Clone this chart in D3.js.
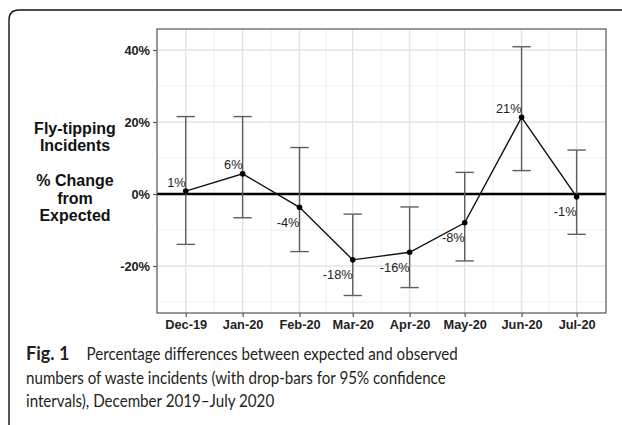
<!DOCTYPE html>
<html>
<head>
<meta charset="utf-8">
<script src="https://cdn.jsdelivr.net/npm/d3@7"></script>
<style>
  html, body { margin: 0; padding: 0; background: #fff; }
  svg { display: block; }
</style>
</head>
<body>
<svg id="chart" width="622" height="425"></svg>
<script>
// ---- data ----
const months = ["2019-12-01","2020-01-01","2020-02-01","2020-03-01","2020-04-01","2020-05-01","2020-06-01","2020-07-01"];
const tickLabels = ["Dec-19","Jan-20","Feb-20","Mar-20","Apr-20","May-20","Jun-20","Jul-20"];
const pctChange = [0.8, 5.6, -3.7, -18.3, -16.2, -8.0, 21.3, -0.8];
const pctLabels = ["1%","6%","-4%","-18%","-16%","-8%","21%","-1%"];
const ciUpper = [21.5, 21.5, 12.9, -5.6, -3.6, 6.0, 40.9, 12.2];
const ciLower = [-14.0, -6.6, -16.0, -28.2, -26.0, -18.6, 6.5, -11.2];
const yMajor = [-20, 0, 20, 40];
const yMinor = [-30, -10, 10, 30];
const yTitle = ["Fly-tipping", "Incidents", "", "% Change", "from", "Expected"];
const captionLines = [
  ["Fig. 1", "Percentage differences between expected and observed"],
  ["", "numbers of waste incidents (with drop-bars for 95% confidence"],
  ["", "intervals), December 2019\u2013July 2020"]
];

const parse = d3.timeParse("%Y-%m-%d");
const dates = months.map(parse);
const rows = dates.map((d, i) => ({ date: d, v: pctChange[i], lo: ciLower[i], hi: ciUpper[i], lab: pctLabels[i] }));

const svg = d3.select("#chart");

// frame
svg.append("path")
  .attr("d", "M9,440 L9,20 Q9,10 19,10 L640,10")
  .attr("fill", "none").attr("stroke", "#111").attr("stroke-width", 1.4);

const P = { left: 157, top: 29, right: 606, bottom: 313 };
const DAY = 864e5;
const x = d3.scaleTime()
  .domain([new Date(+dates[0] - 15.65 * DAY), new Date(+dates[dates.length - 1] + 16 * DAY)])
  .range([P.left, P.right]);
const y = d3.scaleLinear().domain([-33.06, 45.83]).range([P.bottom, P.top]);

const g = svg.append("g");

// minor vertical grid (midpoints between months)
const xMinor = dates.slice(1).map((d, i) => new Date((+d + +dates[i]) / 2));
g.append("g").selectAll("line").data(xMinor).join("line")
  .attr("x1", d => x(d)).attr("x2", d => x(d))
  .attr("y1", P.top).attr("y2", P.bottom)
  .attr("stroke", "#ebebeb").attr("stroke-width", 0.8);
g.append("g").selectAll("line").data(yMinor).join("line")
  .attr("x1", P.left).attr("x2", P.right)
  .attr("y1", d => y(d)).attr("y2", d => y(d))
  .attr("stroke", "#ebebeb").attr("stroke-width", 0.8);
// major grid
g.append("g").selectAll("line").data(dates).join("line")
  .attr("x1", d => x(d)).attr("x2", d => x(d))
  .attr("y1", P.top).attr("y2", P.bottom)
  .attr("stroke", "#e4e4e4").attr("stroke-width", 1.5);
g.append("g").selectAll("line").data(yMajor).join("line")
  .attr("x1", P.left).attr("x2", P.right)
  .attr("y1", d => y(d)).attr("y2", d => y(d))
  .attr("stroke", "#e4e4e4").attr("stroke-width", 1.5);

// zero line
g.append("line")
  .attr("x1", P.left).attr("x2", P.right)
  .attr("y1", y(0)).attr("y2", y(0))
  .attr("stroke", "#000").attr("stroke-width", 2.4);

// error bars
const capHalf = 5 * DAY;
const eb = g.append("g").attr("stroke", "#5e5e5e").attr("stroke-width", 1.4).attr("fill", "none");
eb.selectAll("line.v").data(rows).join("line").attr("class", "v")
  .attr("x1", d => x(d.date)).attr("x2", d => x(d.date))
  .attr("y1", d => y(d.hi)).attr("y2", d => y(d.lo));
eb.selectAll("line.t").data(rows).join("line").attr("class", "t")
  .attr("x1", d => x(new Date(+d.date - capHalf))).attr("x2", d => x(new Date(+d.date + capHalf)))
  .attr("y1", d => y(d.hi)).attr("y2", d => y(d.hi));
eb.selectAll("line.b").data(rows).join("line").attr("class", "b")
  .attr("x1", d => x(new Date(+d.date - capHalf))).attr("x2", d => x(new Date(+d.date + capHalf)))
  .attr("y1", d => y(d.lo)).attr("y2", d => y(d.lo));

// line + points
g.append("path").datum(rows)
  .attr("d", d3.line().x(d => x(d.date)).y(d => y(d.v)))
  .attr("fill", "none").attr("stroke", "#111").attr("stroke-width", 1.4);
g.append("g").selectAll("circle").data(rows).join("circle")
  .attr("cx", d => x(d.date)).attr("cy", d => y(d.v)).attr("r", 2.8).attr("fill", "#000");

// value labels
g.append("g").selectAll("text").data(rows).join("text")
  .attr("x", d => x(d.date))
  .attr("y", d => y(d.v) + (d.v >= 0 ? -9 : 15))
  .attr("dy", "0.35em")
  .attr("text-anchor", "end")
  .attr("font-family", "Liberation Sans, Arial, sans-serif")
  .attr("font-size", 12.8)
  .attr("fill", "#222")
  .text(d => d.lab);

// panel border
g.append("rect")
  .attr("x", P.left).attr("y", P.top)
  .attr("width", P.right - P.left).attr("height", P.bottom - P.top)
  .attr("fill", "none").attr("stroke", "#555").attr("stroke-width", 1.2);

// axes
const yAxis = d3.axisLeft(y).tickValues(yMajor).tickSize(4).tickPadding(3)
  .tickFormat(d => d + "%");
const ya = svg.append("g").attr("transform", `translate(${P.left},0)`).call(yAxis);
const xAxis = d3.axisBottom(x).tickValues(dates).tickSize(4).tickPadding(3)
  .tickFormat((d, i) => tickLabels[i]);
const xa = svg.append("g").attr("transform", `translate(0,${P.bottom})`).call(xAxis);
[ya, xa].forEach(a => {
  a.select(".domain").remove();
  a.selectAll(".tick line").attr("stroke", "#555").attr("stroke-width", 1.2);
  a.selectAll(".tick text")
    .attr("font-family", "Liberation Sans, Arial, sans-serif")
    .attr("font-size", 12.8).attr("font-weight", "bold").attr("fill", "#222");
});

// y title
const yt = svg.append("text")
  .attr("font-family", "Liberation Sans, Arial, sans-serif")
  .attr("font-size", 16).attr("font-weight", "bold").attr("fill", "#111")
  .attr("text-anchor", "middle");
yTitle.forEach((t, i) => {
  yt.append("tspan").attr("x", 75).attr("y", 133.5 + i * 17.5).text(t);
});

// caption (narrow humanist face emulated by horizontal condensing)
const condense = 0.865;
captionLines.forEach((ln, i) => {
  const yy = 360 + i * 23.7;
  if (ln[0]) {
    svg.append("text").attr("x", 26).attr("y", yy)
      .attr("font-family", "Lato, 'Open Sans', sans-serif")
      .attr("font-size", 18).attr("font-weight", "bold").attr("fill", "#231f20")
      .text(ln[0]);
  }
  const t = svg.append("text").attr("x", ln[0] ? 86.5 : 26).attr("y", yy)
    .attr("font-family", "Lato, 'Open Sans', sans-serif")
    .attr("font-size", 17.5).attr("fill", "#231f20")
    .text(ln[1]);
  const w = t.node().getComputedTextLength();
  t.attr("textLength", w * condense).attr("lengthAdjust", "spacingAndGlyphs");
});
</script>
</body>
</html>
